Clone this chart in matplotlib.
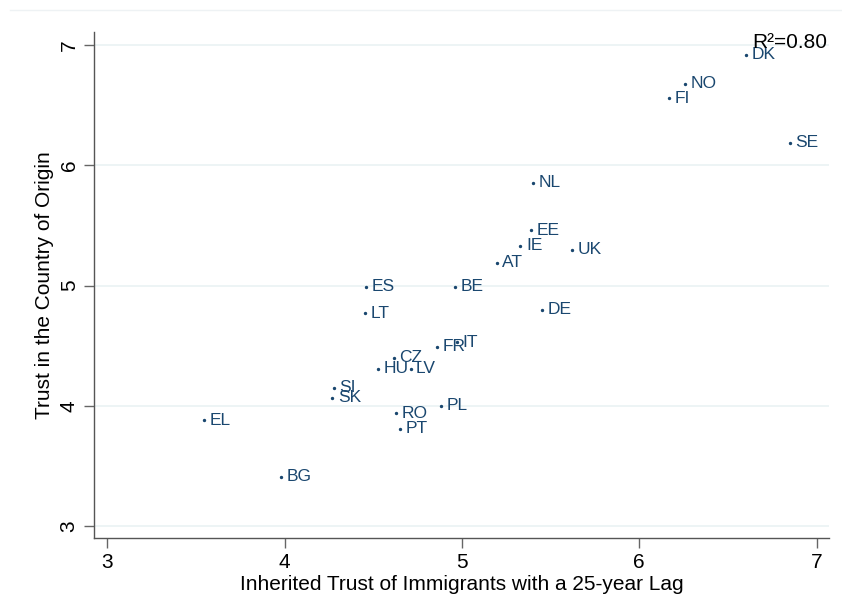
import matplotlib
matplotlib.use("Agg")
import matplotlib.pyplot as plt
from matplotlib.lines import Line2D

# inherited trust (x) vs trust in country of origin (y)
countries = ["DK", "NO", "FI", "SE", "NL", "EE", "IE", "UK", "AT", "ES", "BE",
             "LT", "DE", "FR", "IT", "CZ", "HU", "LV", "SI", "SK", "RO", "PL",
             "PT", "EL", "BG"]
inherited = [6.60, 6.26, 6.17, 6.85, 5.40, 5.39, 5.33, 5.62, 5.195, 4.46, 4.96,
             4.455, 5.45, 4.857, 4.97, 4.616, 4.525, 4.71, 4.277, 4.268, 4.63, 4.88,
             4.65, 3.545, 3.98]
origin = [6.92, 6.68, 6.56, 6.19, 5.855, 5.46, 5.33, 5.30, 5.19, 4.99, 4.99,
          4.77, 4.80, 4.49, 4.53, 4.40, 4.31, 4.31, 4.15, 4.065, 3.94, 4.00,
          3.81, 3.88, 3.41]
r2 = 0.80

plt.rcParams['font.family'] = ['Liberation Sans', 'DejaVu Sans']

fig = plt.figure(figsize=(8.42, 6.15), dpi=100)
ax = fig.add_axes([94/842, 1 - 538/615, (829-94)/842, (538-32)/615])

ax.scatter(inherited, origin, s=2, color="#1a476f", zorder=3)
for c, x, y in zip(countries, inherited, origin):
    ax.annotate(c, (x, y), xytext=(4, 0), textcoords="offset points",
                va="center", ha="left", fontsize=12.5, color="#1a476f")

ax.set_xlim(2.925, 7.07)
ax.set_ylim(2.9, 7.11)
ax.set_xticks([3, 4, 5, 6, 7])
ax.set_yticks([3, 4, 5, 6, 7])
ax.grid(axis="y", color="#eaf2f3", linewidth=1.2, zorder=0)
ax.set_axisbelow(True)

for s in ["top", "right"]:
    ax.spines[s].set_visible(False)
for s in ["left", "bottom"]:
    ax.spines[s].set_color("#555555")
    ax.spines[s].set_linewidth(1.0)
ax.tick_params(length=7, width=1, color="#666666", labelsize=15, pad=4)
for lbl in ax.get_yticklabels():
    lbl.set_rotation(90)
    lbl.set_va("center")

ax.set_xlabel("Inherited Trust of Immigrants with a 25-year Lag", fontsize=15, labelpad=2)
ax.set_ylabel("Trust in the Country of Origin", fontsize=15, labelpad=4)

ax.text(7.06, 7.02, "R\u00b2=%.2f" % r2, ha="right", va="center", fontsize=15,
        color="black")

# thin frame line along the top of the graph region
fig.add_artist(Line2D([10/842, 1], [1 - 9.5/615, 1 - 9.5/615],
                      transform=fig.transFigure, color="#eef2f4", linewidth=1))

fig.savefig("out.png", dpi=100)
